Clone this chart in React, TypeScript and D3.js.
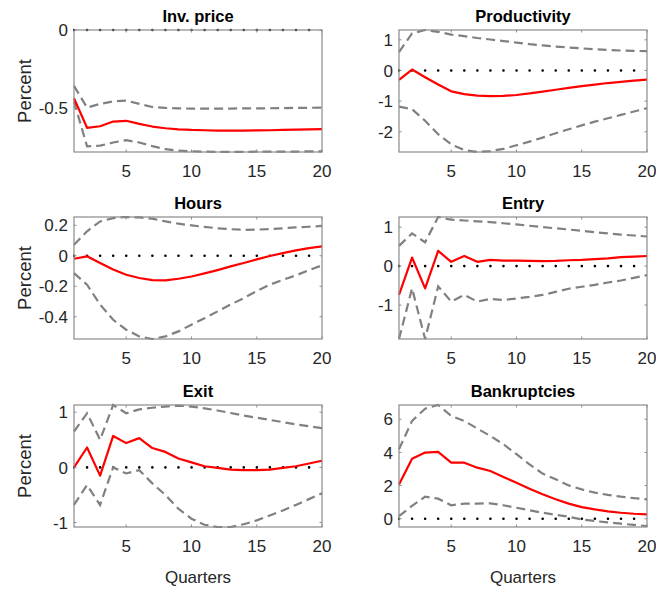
import * as d3 from "d3";

// quarters 1..20
const quarters = d3.range(1, 21);
const xTicks = [5, 10, 15, 20];

const titles = ["Inv. price", "Productivity", "Hours", "Entry", "Exit", "Bankruptcies"];

// axis limits (tight) and y ticks per panel
const yLims: [number, number][] = [
  [-0.786, 0],
  [-2.66, 1.32],
  [-0.546, 0.254],
  [-1.87, 1.26],
  [-1.08, 1.13],
  [-0.5, 6.86],
];
const yTicks = [
  [-0.5, 0],
  [-2, -1, 0, 1],
  [-0.4, -0.2, 0, 0.2],
  [-1, 0, 1],
  [-1, 0, 1],
  [0, 2, 4, 6],
];

// median responses
const invPrice = [-0.44, -0.63, -0.62, -0.59, -0.585, -0.605, -0.622, -0.633, -0.64, -0.644, -0.646, -0.648, -0.648, -0.648, -0.647, -0.646, -0.644, -0.642, -0.64, -0.638];
const productivity = [-0.31, 0.03, -0.22, -0.46, -0.68, -0.77, -0.82, -0.84, -0.83, -0.8, -0.75, -0.69, -0.63, -0.57, -0.51, -0.46, -0.41, -0.37, -0.33, -0.3];
const hours = [-0.02, -0.004, -0.048, -0.09, -0.125, -0.146, -0.16, -0.162, -0.151, -0.136, -0.116, -0.094, -0.07, -0.048, -0.024, -0.002, 0.017, 0.035, 0.05, 0.061];
const entry = [-0.74, 0.22, -0.57, 0.39, 0.11, 0.26, 0.11, 0.16, 0.14, 0.14, 0.135, 0.13, 0.135, 0.15, 0.16, 0.18, 0.2, 0.23, 0.245, 0.26];
const exit = [0, 0.36, -0.15, 0.57, 0.44, 0.53, 0.35, 0.28, 0.16, 0.09, 0.02, -0.01, -0.04, -0.05, -0.05, -0.04, -0.01, 0.02, 0.07, 0.12];
const bankruptcies = [2.07, 3.62, 3.99, 4.03, 3.38, 3.38, 3.08, 2.88, 2.52, 2.17, 1.81, 1.47, 1.17, 0.91, 0.7, 0.56, 0.44, 0.36, 0.3, 0.26];

// upper bands
const invPriceHi = [-0.36, -0.5, -0.476, -0.46, -0.455, -0.476, -0.496, -0.502, -0.505, -0.506, -0.506, -0.506, -0.506, -0.505, -0.505, -0.504, -0.503, -0.502, -0.501, -0.5];
const productivityHi = [0.6, 1.21, 1.32, 1.26, 1.17, 1.12, 1.06, 1.01, 0.96, 0.91, 0.86, 0.82, 0.78, 0.75, 0.72, 0.69, 0.67, 0.65, 0.64, 0.63];
const hoursHi = [0.072, 0.16, 0.225, 0.247, 0.254, 0.251, 0.243, 0.225, 0.21, 0.199, 0.189, 0.18, 0.174, 0.17, 0.171, 0.175, 0.18, 0.186, 0.19, 0.195];
const entryHi = [0.52, 0.84, 0.61, 1.26, 1.19, 1.17, 1.15, 1.13, 1.1, 1.07, 1.035, 1.0, 0.97, 0.94, 0.905, 0.87, 0.84, 0.81, 0.785, 0.76];
const exitHi = [0.65, 0.98, 0.5, 1.13, 0.98, 1.05, 1.08, 1.1, 1.12, 1.1, 1.07, 1.03, 0.985, 0.94, 0.9, 0.86, 0.82, 0.78, 0.745, 0.71];
const bankruptciesHi = [4.19, 5.9, 6.64, 6.86, 6.2, 5.9, 5.44, 4.99, 4.49, 3.89, 3.28, 2.72, 2.38, 2.01, 1.77, 1.57, 1.44, 1.33, 1.24, 1.17];

// lower bands
const invPriceLo = [-0.46, -0.75, -0.745, -0.725, -0.71, -0.725, -0.748, -0.768, -0.777, -0.781, -0.784, -0.785, -0.785, -0.785, -0.784, -0.784, -0.783, -0.783, -0.782, -0.782];
const productivityLo = [-1.18, -1.26, -1.64, -2.08, -2.41, -2.6, -2.66, -2.63, -2.56, -2.44, -2.32, -2.19, -2.05, -1.92, -1.79, -1.67, -1.56, -1.45, -1.34, -1.23];
const hoursLo = [-0.114, -0.19, -0.32, -0.42, -0.485, -0.529, -0.546, -0.529, -0.496, -0.452, -0.41, -0.365, -0.32, -0.278, -0.232, -0.19, -0.158, -0.129, -0.095, -0.063];
const entryLo = [-1.87, -0.57, -1.87, -0.52, -0.91, -0.74, -0.91, -0.84, -0.87, -0.83, -0.79, -0.74, -0.66, -0.58, -0.53, -0.48, -0.42, -0.37, -0.3, -0.23];
const exitLo = [-0.68, -0.32, -0.68, 0.0, -0.11, -0.05, -0.29, -0.5, -0.75, -0.93, -1.04, -1.08, -1.08, -1.03, -0.96, -0.87, -0.78, -0.68, -0.575, -0.47];
const bankruptciesLo = [0.16, 0.77, 1.33, 1.21, 0.81, 0.91, 0.91, 0.93, 0.81, 0.66, 0.51, 0.36, 0.24, 0.12, -0.04, -0.14, -0.22, -0.3, -0.37, -0.44];

const medians = [invPrice, productivity, hours, entry, exit, bankruptcies];
const uppers = [invPriceHi, productivityHi, hoursHi, entryHi, exitHi, bankruptciesHi];
const lowers = [invPriceLo, productivityLo, hoursLo, entryLo, exitLo, bankruptciesLo];

const W = 656;
const H = 589;
const colX = [74, 399];
const rowY = [30, 217, 405];
const pw = 248;
const ph = 122;
const font = "'Liberation Sans', Arial, Helvetica, sans-serif";
const tickLen = 2.5;

const Panel = ({ i }: { i: number }) => {
  const left = colX[i % 2];
  const top = rowY[Math.floor(i / 2)];
  const x = d3.scaleLinear().domain([1, 20]).range([left, left + pw]);
  const y = d3.scaleLinear().domain(yLims[i]).range([top + ph, top]);
  const line = d3
    .line<number>()
    .x((_, k) => x(quarters[k]))
    .y((d) => y(d));
  const clipId = `clip-${i}`;
  const zeros = quarters.map(() => 0);

  return (
    <g>
      <clipPath id={clipId}>
        <rect x={left - 1} y={top - 2} width={pw + 2} height={ph + 4} />
      </clipPath>
      <rect x={left} y={top} width={pw} height={ph} fill="#fff" />
      <g clipPath={`url(#${clipId})`}>
        <path d={line(zeros)!} fill="none" stroke="#000" strokeWidth={2.6} strokeLinecap="round" strokeDasharray="0.01 13.05" />
        <path d={line(uppers[i])!} fill="none" stroke="#808080" strokeWidth={2.2} strokeDasharray="9 5" />
        <path d={line(lowers[i])!} fill="none" stroke="#808080" strokeWidth={2.2} strokeDasharray="9 5" />
        <path d={line(medians[i])!} fill="none" stroke="#ff0000" strokeWidth={2.2} strokeLinejoin="round" />
      </g>
      <rect x={left} y={top} width={pw} height={ph} fill="none" stroke="#8a8a8a" strokeWidth={1.2} />
      {xTicks.map((t) => (
        <g key={`x${t}`}>
          <line x1={x(t)} x2={x(t)} y1={top + ph} y2={top + ph - tickLen} stroke="#8a8a8a" />
          <line x1={x(t)} x2={x(t)} y1={top} y2={top + tickLen} stroke="#8a8a8a" />
          <text x={x(t)} y={top + ph + 25} textAnchor="middle" fontSize={17} fill="#262626" fontFamily={font}>
            {t}
          </text>
        </g>
      ))}
      {yTicks[i].map((t) => (
        <g key={`y${t}`}>
          <line x1={left} x2={left + tickLen} y1={y(t)} y2={y(t)} stroke="#8a8a8a" />
          <line x1={left + pw} x2={left + pw - tickLen} y1={y(t)} y2={y(t)} stroke="#8a8a8a" />
          <text x={left - 6} y={y(t)} dy="0.36em" textAnchor="end" fontSize={17} fill="#262626" fontFamily={font}>
            {String(t)}
          </text>
        </g>
      ))}
      <text x={left + pw / 2} y={top - 8} textAnchor="middle" fontSize={16.5} fontWeight="bold" fill="#000" fontFamily={font}>
        {titles[i]}
      </text>
      {i % 2 === 0 && (
        <text
          transform={`translate(${31},${top + ph / 2}) rotate(-90)`}
          textAnchor="middle"
          fontSize={18.5}
          fill="#262626"
          fontFamily={font}
        >
          Percent
        </text>
      )}
      {i >= 4 && (
        <text x={left + pw / 2} y={583} textAnchor="middle" fontSize={17} fill="#262626" fontFamily={font}>
          Quarters
        </text>
      )}
    </g>
  );
};

export default function App() {
  return (
    <svg width={W} height={H} style={{ position: "absolute", left: 0, top: 0, background: "#fff" }}>
      <rect width={W} height={H} fill="#fff" />
      {titles.map((_, i) => (
        <Panel key={i} i={i} />
      ))}
    </svg>
  );
}
